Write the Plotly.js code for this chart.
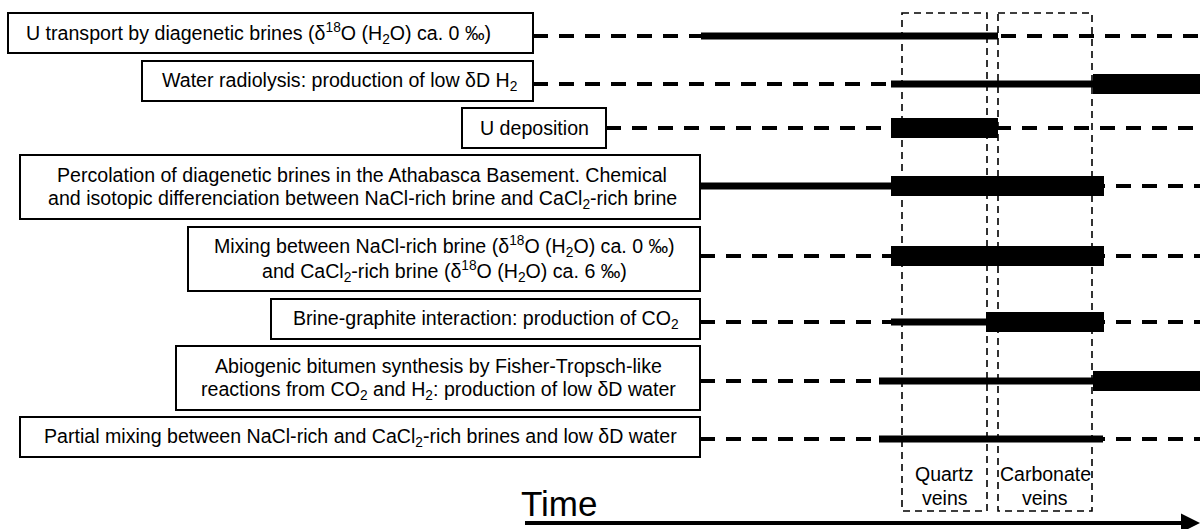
<!DOCTYPE html>
<html>
<head>
<meta charset="utf-8">
<script src="https://cdn.plot.ly/plotly-3.0.1.min.js"></script>
<style>html,body{margin:0;padding:0;background:#fff}#chart{width:1200px;height:529px}</style>
</head>
<body>
<div id="chart"></div>
<script>
// ---- data (time axis in arbitrary units, 0..1200) ----
const processes = [
  "U transport by diagenetic brines (δ<sup>18</sup>O (H<sub>2</sub>O) ca. 0 ‰)",
  "Water radiolysis: production of low δD H<sub>2</sub>",
  "U deposition",
  "Percolation of diagenetic brines in the Athabasca Basement. Chemical<br>and isotopic differenciation between NaCl-rich brine and CaCl<sub>2</sub>-rich brine",
  "Mixing between NaCl-rich brine (δ<sup>18</sup>O (H<sub>2</sub>O) ca. 0 ‰)<br>and CaCl<sub>2</sub>-rich brine (δ<sup>18</sup>O (H<sub>2</sub>O) ca. 6 ‰)",
  "Brine-graphite interaction: production of CO<sub>2</sub>",
  "Abiogenic bitumen synthesis by Fisher-Tropsch-like<br>reactions from CO<sub>2</sub> and H<sub>2</sub>: production of low δD water",
  "Partial mixing between NaCl-rich and CaCl<sub>2</sub>-rich brines and low δD water"
];
// moderate activity (medium line)
const activeStart = [701, 891, null, 700, null, 891, 879, 879];
const activeEnd   = [998, 1093, null, 891, null, 986, 1093, 1103];
// strong activity (thick bar)
const strongStart = [null, 1093, 891, 891, 891, 986, 1093, null];
const strongEnd   = [null, 1200, 998, 1104, 1104, 1104, 1200, null];
// vein stages
const stageNames = ["Quartz<br>veins", "Carbonate<br>veins"];
const stageStart = [902, 998];
const stageEnd   = [987, 1092];
const timeEnd = 1200;

// ---- layout geometry ----
const rowY    = [36, 84, 128, 186, 256, 322, 381, 439];
const boxL    = [8, 142, 462, 20, 188, 271, 176, 20];
const boxR    = [533, 533, 606, 700, 700, 700, 700, 700];
const boxT    = [13, 61, 108, 155, 227, 299, 346, 417];
const boxB    = [53, 101, 148, 219, 291, 339, 410, 457];
const textShift = [-12, 2, 0, 2, 0, 0, 0, 0];

const FONT = "Liberation Sans, Arial, sans-serif";

function segTrace(starts, ends, width, dash) {
  const x = [], y = [];
  for (let i = 0; i < rowY.length; i++) {
    if (starts[i] == null) continue;
    x.push(starts[i], ends[i], null);
    y.push(rowY[i], rowY[i], null);
  }
  return {type: 'scatter', mode: 'lines', x, y, hoverinfo: 'skip', showlegend: false,
          connectgaps: false, line: {color: '#000', width, dash: dash || 'solid'}};
}

const dashStart = boxR.slice();
const dashEnd = rowY.map(() => timeEnd);

const traces = [
  segTrace(dashStart, dashEnd, 4, '15px,11px'),
  segTrace(activeStart, activeEnd, 7),
  segTrace(strongStart, strongEnd, 20)
];

const shapes = [];
const annotations = [];
function addLines(text, cx, cy, size, gap) {
  const lines = text.split('<br>');
  lines.forEach((ln, j) => {
    annotations.push({x: cx, y: cy + (j - (lines.length - 1) / 2) * gap, xref: 'x', yref: 'y',
                      text: ln, showarrow: false, xanchor: 'center', yanchor: 'middle',
                      align: 'center', font: {family: FONT, size, color: '#000'}});
  });
}
for (let i = 0; i < processes.length; i++) {
  shapes.push({type: 'rect', xref: 'x', yref: 'y', x0: boxL[i], x1: boxR[i], y0: boxT[i], y1: boxB[i],
               line: {color: '#000', width: 2}, fillcolor: '#fff', layer: 'above'});
  addLines(processes[i], (boxL[i] + boxR[i]) / 2 + textShift[i], (boxT[i] + boxB[i]) / 2, 19.6, 25);
}
for (let k = 0; k < stageNames.length; k++) {
  shapes.push({type: 'rect', xref: 'x', yref: 'y', x0: stageStart[k], x1: stageEnd[k], y0: 13, y1: 511,
               line: {color: '#000', width: 1.6, dash: '7px,5px'}, layer: 'below'});
  addLines(stageNames[k], (stageStart[k] + stageEnd[k]) / 2, 486, 19.5, 24);
}
// Time arrow
annotations.push({x: timeEnd, y: 523, ax: 522, ay: 523, xref: 'x', yref: 'y', axref: 'x', ayref: 'y',
                  showarrow: true, arrowhead: 2, arrowsize: 0.95, arrowwidth: 4, arrowcolor: '#000',
                  standoff: 0, text: ' '});
annotations.push({x: 519, y: 503, xref: 'x', yref: 'y', text: 'Time', showarrow: false,
                  xanchor: 'left', yanchor: 'middle', font: {family: FONT, size: 35, color: '#000'}});

const layout = {
  width: 1200, height: 529,
  margin: {l: 0, r: 0, t: 0, b: 0},
  paper_bgcolor: '#fff', plot_bgcolor: '#fff',
  xaxis: {range: [0, 1200], visible: false, fixedrange: true},
  yaxis: {range: [529, 0], visible: false, fixedrange: true},
  shapes, annotations, showlegend: false
};
Plotly.newPlot('chart', traces, layout, {staticPlot: true, displayModeBar: false});
</script>
</body>
</html>
